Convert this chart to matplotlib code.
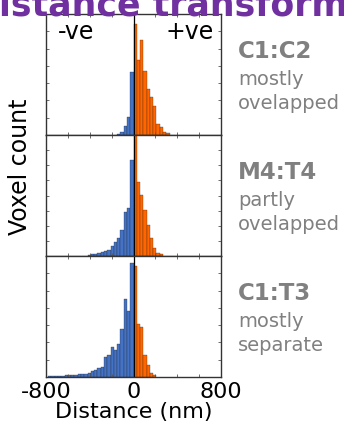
import matplotlib
matplotlib.use('Agg')
import matplotlib.pyplot as plt
from matplotlib.ticker import MultipleLocator, FixedLocator, NullFormatter

# histogram bin width (nm)
bin_w = 30

# voxel counts per 30 nm bin, negative side listed from far to near zero
c1c2_neg = [60, 170, 520, 1040, 3640]
c1c2_pos = [6420, 4340, 5500, 3700, 2660, 2200, 1680, 640, 460, 170, 120]

m4t4_neg = [66, 130, 130, 200, 260, 330, 400, 660, 930, 1190, 1720, 2910, 3170, 6350]
m4t4_pos = [8300, 4890, 4030, 3040, 2050, 1190, 530, 200, 130]

c1t3_neg = [58, 58, 58, 58, 58, 115, 115, 115, 115, 175, 175, 175, 230, 350,
            400, 520, 580, 1160, 1270, 1740, 1560, 1910, 2780, 4510, 3820, 6600]
c1t3_pos = [6420, 3070, 2890, 1270, 690, 230, 115]

panel_names = ['C1:C2', 'M4:T4', 'C1:T3']
panel_notes = [('mostly', 'ovelapped'), ('partly', 'ovelapped'), ('mostly', 'separate')]
panel_ymax = [7000, 8000, 7000]
panel_data = [(c1c2_neg, c1c2_pos), (m4t4_neg, m4t4_pos), (c1t3_neg, c1t3_pos)]

blue = '#4472c4'
orange = '#ff6600'
grey = '#808080'

fig = plt.figure(figsize=(3.44, 4.31), dpi=100)

W, H = 344., 431.
left, right = 46, 221
tops = [15, 136, 257]
ph = 121

axes = []
for k in range(3):
    ax = fig.add_axes([left / W, 1 - (tops[k] + ph) / H, (right - left) / W, ph / H])
    neg, pos = panel_data[k]
    neg_left = [-bin_w * (len(neg) - i) for i in range(len(neg))]
    pos_left = [bin_w * i for i in range(len(pos))]
    ax.bar(neg_left, neg, width=bin_w, align='edge', color=blue,
           edgecolor='#222222', linewidth=0.2)
    ax.bar(pos_left, pos, width=bin_w, align='edge', color=orange,
           edgecolor='#222222', linewidth=0.2)
    ax.axvline(0, color='k', lw=0.9)
    ax.set_xlim(-800, 800)
    ax.set_ylim(0, panel_ymax[k])
    ax.yaxis.set_major_locator(MultipleLocator(1000))
    ax.yaxis.set_major_formatter(NullFormatter())
    ax.xaxis.set_major_locator(FixedLocator([-800, 0, 800]))
    ax.xaxis.set_minor_locator(MultipleLocator(200))
    ax.tick_params(which='both', direction='in', length=2.5, width=0.6,
                   color='#555555', top=True, right=True)
    for s in ax.spines.values():
        s.set_linewidth(1.0)
        s.set_color('#333333')
    if k < 2:
        ax.set_xticklabels([])
    else:
        ax.set_xticklabels(['-800', '0', '800'], fontsize=16)
        ax.tick_params(axis='x', pad=3)
        ax.set_xlabel('Distance (nm)', fontsize=16, labelpad=0)
    # labels on the right
    fig.text(238 / W, 1 - (tops[k] + 43) / H, panel_names[k], color=grey,
             fontsize=16.5, fontweight='bold', va='baseline')
    fig.text(238 / W, 1 - (tops[k] + 70) / H, panel_notes[k][0], color=grey,
             fontsize=14, va='baseline')
    fig.text(238 / W, 1 - (tops[k] + 94) / H, panel_notes[k][1], color=grey,
             fontsize=14, va='baseline')
    axes.append(ax)

axes[0].text(58 / W, 1 - 39 / H, '-ve', transform=fig.transFigure, fontsize=17,
             va='baseline', ha='left')
axes[0].text(214 / W, 1 - 39 / H, '+ve', transform=fig.transFigure, fontsize=17,
             va='baseline', ha='right')

fig.text(20 / W, 1 - 167 / H, 'Voxel count', rotation=90, fontsize=17,
         ha='center', va='center')

# slide title, mostly cut off at the top
fig.text(-30 / W, 1 - 15 / H, 'Distance transform', color='#7030a0',
         fontsize=25, fontweight='bold', va='baseline')

fig.savefig('out.png', dpi=100)
plt.close(fig)
